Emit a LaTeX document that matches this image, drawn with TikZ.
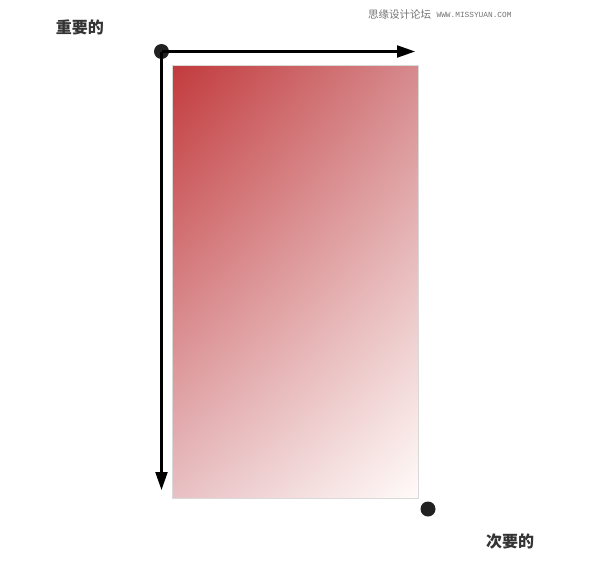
\documentclass[tikz,border=0pt]{standalone}
\usepackage{fontspec}
\newfontfamily\cjk{Noto Sans CJK SC}
\newfontfamily\wmfont{Liberation Mono}
\usetikzlibrary{arrows.meta,positioning,shadings}
\definecolor{deepred}{HTML}{C23A3C}
\definecolor{midred}{HTML}{D68A8D}
\definecolor{softpink}{HTML}{E8C0C3}
\definecolor{nearwhite}{HTML}{FFFBF9}
\definecolor{inkgray}{HTML}{333333}
\tikzset{dot/.style={circle, fill=black!87, inner sep=0pt, minimum size=15pt}}
\tikzset{axis/.style={-{Triangle[length=18pt,width=12pt]}, line width=2.2pt, black}}
\tikzset{heading/.style={font=\cjk\bfseries\fontsize{16}{18}\selectfont, text=inkgray}}
\tikzset{mark text/.style={text=black!55, inner sep=0pt}}

\begin{document}
\begin{tikzpicture}[x=1pt, y=-1pt]
    \useasboundingbox (0,0) rectangle (590,568);

    % 渐变卡片
    \shade[upper left=deepred, upper right=midred, lower left=softpink, lower right=nearwhite]
        (172,65) rectangle (418,498);
    \draw[black!15, line width=1pt] (172,65) rectangle (418,498);

    % 方向
    \node[dot] (start) at (161.5,51.5) {};
    \coordinate (xend) at (415,51.5);
    \coordinate (yend) at (161.5,490);
    \draw[axis] (start.center) -- (xend);
    \draw[axis] (start.center) -- (yend);
    \node[dot] (finish) at (428,509) {};

    \node[heading] (major) at (80,27) {重要的};
    \node[heading] (minor) at (510,542) {次要的};

    % 水印
    \node[mark text, font=\cjk\fontsize{10.5}{12}\selectfont, anchor=west] (wmcn) at (368,15) {思缘设计论坛};
    \node[mark text, font=\wmfont\fontsize{7.8}{9}\selectfont, right=5pt of wmcn] (wmen) {WWW.MISSYUAN.COM};
\end{tikzpicture}
\end{document}
